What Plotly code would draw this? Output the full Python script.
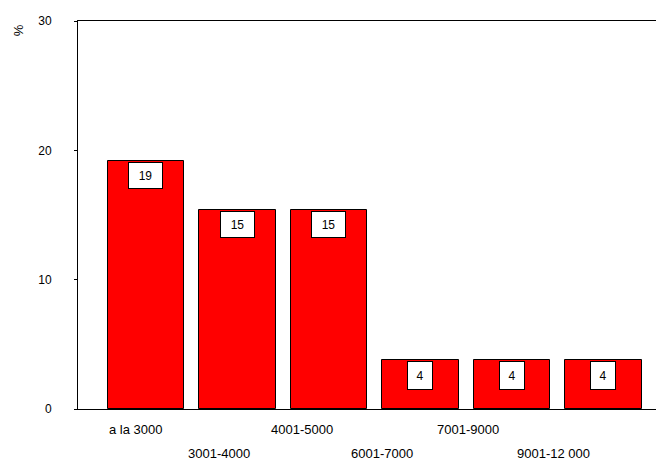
import plotly.graph_objects as go

categories = ["a la 3000", "3001-4000", "4001-5000", "6001-7000", "7001-9000", "9001-12 000"]
percent = [19.2, 15.4, 15.4, 3.8, 3.8, 3.8]
bar_labels = ["19", "15", "15", "4", "4", "4"]
y_ticks = [0, 10, 20, 30]

label_shift = [-10, -18, -27, -38, -44, -50]
label_row = [0, 1, 0, 1, 0, 1]

x = list(range(len(categories)))
fig = go.Figure()
fig.add_trace(go.Bar(
    x=x, y=percent, width=0.84,
    marker=dict(color="#FF0000", line=dict(color="black", width=1)),
    hoverinfo="skip",
))

font = dict(family="Liberation Sans, Arial, sans-serif", size=12, color="black")
lfont = dict(family="Liberation Sans, Arial, sans-serif", size=13, color="black")

anns = []
for i, (v, t) in enumerate(zip(percent, bar_labels)):
    w = 33 if len(t) > 1 else 24
    h = 25 if len(t) > 1 else 27
    anns.append(dict(x=i, y=v, xref="x", yref="y", text=t, showarrow=False,
                     yanchor="top", yshift=-1, bgcolor="white", bordercolor="black",
                     borderwidth=1, borderpad=0, width=w, height=h, font=font))
for i, c in enumerate(categories):
    anns.append(dict(x=i, y=0, xref="x", yref="y", text=c, showarrow=False,
                     yanchor="middle", xshift=label_shift[i],
                     yshift=-20 if label_row[i] == 0 else -44, font=lfont))
anns.append(dict(x=-0.10, y=0.975, xref="paper", yref="paper", text="%", showarrow=False,
                 textangle=-90, xanchor="center", yanchor="middle",
                 font=dict(family="Liberation Sans, Arial", size=13, color="black")))
fig.update_layout(annotations=anns)

# page body has an 8px default margin; compensate so the plot lands where the reference has it
fig.update_layout(
    width=664, height=463,
    margin=dict(l=70, r=0, t=13, b=62),
    plot_bgcolor="white", paper_bgcolor="white",
    showlegend=False, bargap=0,
    xaxis=dict(range=[-0.743, 5.749], showline=True, mirror=True, linecolor="black",
               linewidth=1, showticklabels=False, ticks="", showgrid=False, zeroline=False),
    yaxis=dict(range=[0, 30], tickvals=y_ticks, showline=True, linecolor="black",
               linewidth=1, ticks="outside", ticklen=3, tickcolor="black",
               ticklabelstandoff=20, tickfont=font, showgrid=False, zeroline=False),
)

fig.write_html("out.html")
